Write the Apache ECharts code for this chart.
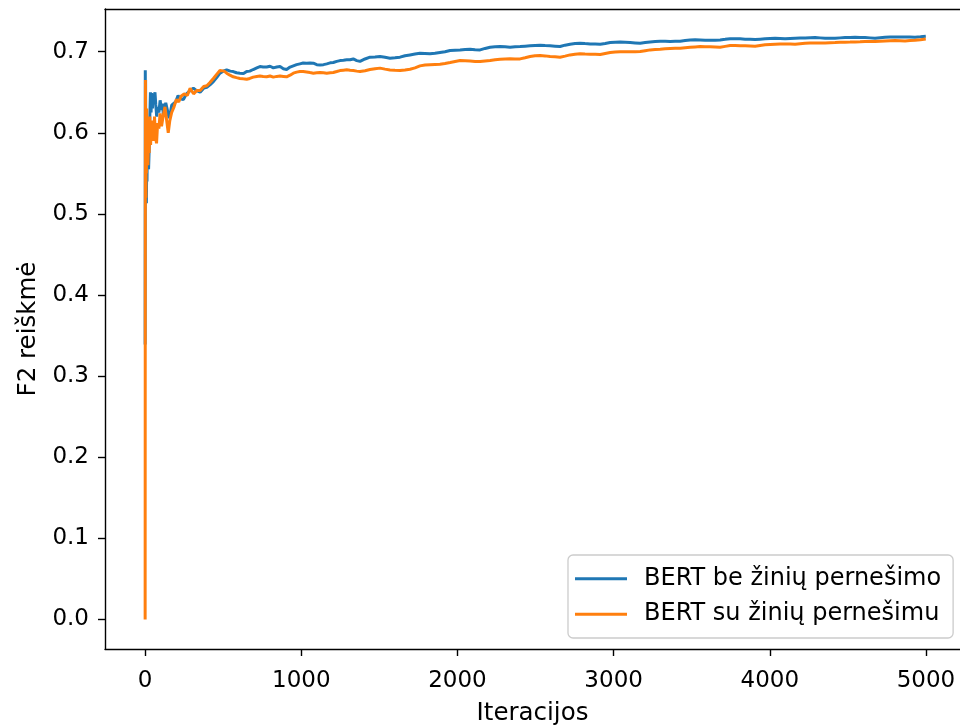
<!DOCTYPE html>
<html>
<head>
<meta charset="utf-8">
<script src="https://cdn.jsdelivr.net/npm/echarts@6/dist/echarts.min.js"></script>
<style>
  html, body { margin: 0; padding: 0; background: #fff; }
  #chart { width: 960px; height: 725px; }
</style>
</head>
<body>
<div id="chart"></div>
<script>
// Series names
const seriesNames = ['BERT be žinių pernešimo', 'BERT su žinių pernešimu'];

// BERT without transfer: iteration and running F2 score
const baseIter = [0,1,2,3,4,5,6,8,10,12,15,18,22,26,30,34,38,42,47,52,58,63,68,74,80,88,96,105,112,117,125,132,138,146,153,162,170,181,195,211,225,245,265,288,309,330,352,375,395,415,437,458,479,500,522,545,564,585,607,630,650,670,692,715,735,756,778,800,821,843,864,885,906,928,949,970,991,1012,1034,1056,1077,1099,1120,1142,1163,1185,1205,1227,1248,1270,1291,1312,1333,1355,1376,1408,1440,1472,1504,1536,1568,1600,1632,1664,1696,1728,1760,1792,1824,1856,1888,1920,1953,1985,2017,2049,2081,2113,2145,2177,2209,2241,2273,2305,2337,2369,2401,2433,2465,2497,2529,2561,2593,2625,2657,2689,2721,2753,2785,2817,2850,2882,2914,2946,2978,3010,3042,3074,3106,3138,3170,3202,3234,3266,3298,3330,3362,3394,3426,3458,3490,3522,3554,3586,3618,3650,3682,3714,3746,3778,3810,3842,3874,3906,3938,3970,4002,4034,4066,4098,4130,4162,4194,4226,4258,4290,4322,4354,4386,4418,4450,4482,4514,4546,4578,4610,4642,4674,4706,4738,4770,4802,4834,4866,4898,4930,4965,4999];
const baseF2 = [0.339,0.677,0.60,0.665,0.57,0.62,0.54,0.513,0.56,0.54,0.60,0.565,0.555,0.58,0.62,0.65,0.625,0.649,0.63,0.648,0.64,0.650,0.635,0.620,0.632,0.625,0.640,0.628,0.636,0.620,0.630,0.637,0.635,0.625,0.618,0.625,0.634,0.632,0.638,0.646,0.642,0.641,0.648,0.652,0.655,0.652,0.650,0.655,0.656,0.659,0.663,0.668,0.6735,0.676,0.6776,0.676,0.6755,0.674,0.6735,0.673,0.6755,0.676,0.678,0.680,0.6816,0.681,0.681,0.682,0.680,0.681,0.6816,0.679,0.678,0.681,0.6825,0.684,0.685,0.686,0.6858,0.686,0.6858,0.684,0.6837,0.684,0.685,0.6862,0.6866,0.688,0.689,0.6895,0.690,0.690,0.691,0.689,0.688,0.691,0.6932,0.6935,0.694,0.693,0.692,0.6925,0.6932,0.695,0.696,0.697,0.698,0.6978,0.6973,0.698,0.699,0.700,0.7014,0.7018,0.7022,0.7028,0.703,0.7025,0.7022,0.704,0.7055,0.706,0.7063,0.706,0.7055,0.706,0.7063,0.7068,0.7072,0.7076,0.708,0.7075,0.7072,0.7068,0.7063,0.708,0.7092,0.710,0.7104,0.710,0.7096,0.7094,0.7092,0.710,0.7112,0.7116,0.712,0.7116,0.7112,0.7108,0.7104,0.7112,0.712,0.7125,0.7129,0.7127,0.7125,0.7127,0.7129,0.7137,0.7145,0.7146,0.7145,0.7142,0.714,0.7142,0.7145,0.7152,0.716,0.7158,0.7158,0.7154,0.7152,0.715,0.7154,0.7158,0.7162,0.7166,0.7162,0.7158,0.7162,0.7166,0.7168,0.717,0.7172,0.7174,0.717,0.7166,0.7166,0.7166,0.717,0.7174,0.7176,0.7178,0.7176,0.7174,0.717,0.7166,0.7172,0.7178,0.718,0.7182,0.7182,0.7182,0.718,0.7178,0.7184,0.719];

// BERT with transfer: iteration and running F2 score
const transferIter = [0,1,2,3,4,5,6,8,10,12,15,18,22,26,30,35,40,45,50,55,60,66,73,80,88,96,105,115,127,138,148,158,170,185,200,215,230,250,270,288,310,330,352,375,395,415,437,458,479,490,506,522,543,564,585,607,628,650,670,692,715,735,756,778,800,821,843,864,885,906,928,949,970,991,1012,1034,1056,1077,1099,1120,1142,1163,1185,1205,1227,1248,1270,1291,1312,1333,1355,1376,1408,1440,1472,1504,1536,1568,1600,1632,1664,1696,1728,1760,1792,1824,1856,1888,1920,1953,1985,2017,2049,2081,2113,2145,2177,2209,2241,2273,2305,2337,2369,2401,2433,2465,2497,2529,2561,2593,2625,2657,2689,2721,2753,2785,2817,2850,2882,2914,2946,2978,3010,3042,3074,3106,3138,3170,3202,3234,3266,3298,3330,3362,3394,3426,3458,3490,3522,3554,3586,3618,3650,3682,3714,3746,3778,3810,3842,3874,3906,3938,3970,4002,4034,4066,4098,4130,4162,4194,4226,4258,4290,4322,4354,4386,4418,4450,4482,4514,4546,4578,4610,4642,4674,4706,4738,4770,4802,4834,4866,4898,4930,4965,4999];
const transferF2 = [0.0,0.50,0.665,0.56,0.62,0.52,0.60,0.55,0.63,0.57,0.61,0.56,0.60,0.575,0.62,0.585,0.615,0.595,0.61,0.59,0.62,0.595,0.587,0.612,0.605,0.624,0.608,0.620,0.632,0.615,0.600,0.615,0.625,0.632,0.641,0.638,0.645,0.648,0.646,0.655,0.648,0.652,0.652,0.657,0.658,0.662,0.667,0.672,0.6767,0.678,0.676,0.6735,0.671,0.669,0.668,0.667,0.6665,0.666,0.667,0.6686,0.6695,0.670,0.6695,0.669,0.670,0.6686,0.6695,0.670,0.6695,0.669,0.671,0.6735,0.6748,0.6755,0.6755,0.675,0.6742,0.6735,0.674,0.6743,0.674,0.6735,0.674,0.6743,0.6755,0.6767,0.6772,0.6776,0.677,0.6767,0.676,0.6755,0.6765,0.678,0.679,0.6797,0.6785,0.6775,0.677,0.6767,0.6775,0.6784,0.680,0.6825,0.6835,0.684,0.6843,0.6846,0.6855,0.6866,0.6878,0.689,0.6888,0.6884,0.688,0.6878,0.6884,0.689,0.690,0.6907,0.691,0.6912,0.6911,0.6911,0.6925,0.694,0.695,0.6952,0.6948,0.694,0.6936,0.6932,0.6945,0.696,0.6968,0.6973,0.6971,0.6969,0.6967,0.6965,0.6978,0.699,0.6995,0.6998,0.6998,0.6998,0.700,0.7002,0.7012,0.7022,0.7026,0.703,0.7035,0.7039,0.7041,0.7043,0.7049,0.7055,0.7059,0.7063,0.7062,0.706,0.7058,0.7055,0.7065,0.7075,0.7075,0.7073,0.7072,0.707,0.7068,0.7076,0.7084,0.7088,0.7092,0.7094,0.7096,0.7094,0.7092,0.7098,0.7104,0.7106,0.7108,0.7108,0.7108,0.711,0.7112,0.7115,0.7117,0.7118,0.712,0.7122,0.7125,0.7125,0.7125,0.7129,0.7133,0.7135,0.7137,0.7135,0.7133,0.7137,0.7141,0.7148,0.7155];

// Tick positions
const xTicks = [0, 1000, 2000, 3000, 4000, 5000];
const yTicks = [0.0, 0.1, 0.2, 0.3, 0.4, 0.5, 0.6, 0.7];

const pairs = (xs, ys) => xs.map((x, i) => [x, ys[i]]);

const FONT = 'DejaVu Sans';
const TICK_FS = 23;
const NAME_FS = 24.5;
const LEGEND_FS = 24;
const X_MIN = -257, X_MAX = 5218;
const spine = { color: '#000', width: 1.4 };

const chart = echarts.init(document.getElementById('chart'), null, { renderer: 'canvas' });

chart.setOption({
  animation: false,
  backgroundColor: '#ffffff',
  grid: { left: 105, top: 9, right: 0, bottom: 76, show: false, containLabel: false, outerBoundsMode: 'none' },
  xAxis: [
    {
      type: 'value', min: X_MIN, max: X_MAX, position: 'bottom',
      name: 'Iteracijos', nameLocation: 'middle', nameGap: 52,
      nameTextStyle: { fontFamily: FONT, fontSize: NAME_FS, color: '#000' },
      splitLine: { show: false },
      axisLine: { show: true, onZero: false, lineStyle: spine },
      axisTick: { show: true, customValues: xTicks, length: 7, lineStyle: spine },
      axisLabel: { customValues: xTicks, fontFamily: FONT, fontSize: TICK_FS, color: '#000', margin: 21,
        formatter: v => String(Math.round(v)) }
    },
    {
      // top frame line
      type: 'value', min: X_MIN, max: X_MAX, position: 'top',
      splitLine: { show: false },
      axisLine: { show: true, onZero: false, lineStyle: spine },
      axisTick: { show: false }, axisLabel: { show: false }
    }
  ],
  yAxis: {
    type: 'value', min: -0.0364, max: 0.7526,
    name: 'F2 reiškmė', nameLocation: 'middle', nameGap: 64, nameRotate: 90,
    nameTextStyle: { fontFamily: FONT, fontSize: NAME_FS, color: '#000' },
    splitLine: { show: false },
    axisLine: { show: true, onZero: false, lineStyle: spine },
    axisTick: { show: true, customValues: yTicks, length: 7, lineStyle: spine },
    axisLabel: { customValues: yTicks, fontFamily: FONT, fontSize: TICK_FS, color: '#000', margin: 16,
      formatter: v => v.toFixed(1) }
  },
  legend: {
    orient: 'vertical',
    left: 568, top: 555,
    padding: [10, 12, 10, 7],
    itemGap: 8,
    itemWidth: 52, itemHeight: 3,
    icon: 'rect',
    backgroundColor: 'rgba(255,255,255,0.8)',
    borderColor: '#cccccc', borderWidth: 1.3, borderRadius: 5,
    textStyle: { fontFamily: FONT, fontSize: LEGEND_FS, color: '#000', lineHeight: 27.5, padding: [0, 0, 0, 12] },
    data: seriesNames
  },
  series: [
    {
      name: seriesNames[0], type: 'line', showSymbol: false, symbol: 'none',
      data: pairs(baseIter, baseF2),
      lineStyle: { color: '#1f77b4', width: 3 }, itemStyle: { color: '#1f77b4' }
    },
    {
      name: seriesNames[1], type: 'line', showSymbol: false, symbol: 'none',
      data: pairs(transferIter, transferF2),
      lineStyle: { color: '#ff7f0e', width: 3 }, itemStyle: { color: '#ff7f0e' }
    }
  ]
});
</script>
</body>
</html>
